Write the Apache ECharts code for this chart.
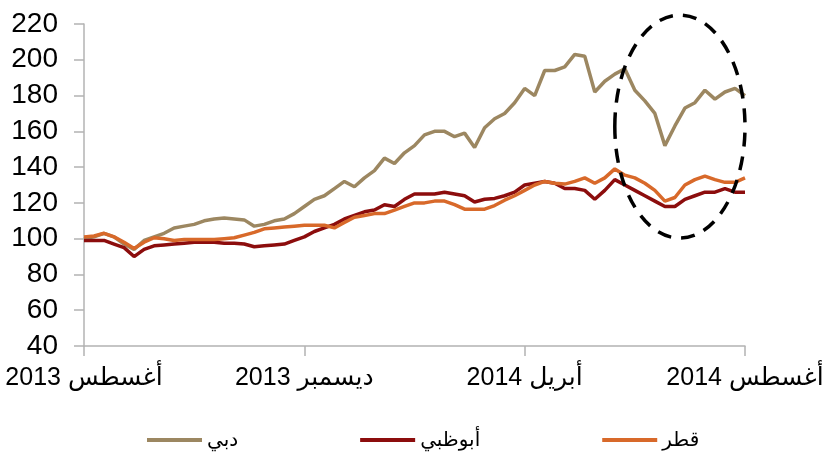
<!DOCTYPE html>
<html>
<head>
<meta charset="utf-8">
<script src="https://cdn.jsdelivr.net/npm/echarts@6/dist/echarts.min.js"></script>
<style>
  html, body { margin: 0; padding: 0; background: #fff; }
  #chart { width: 822px; height: 453px; }
</style>
</head>
<body>
<div id="chart"></div>
<script>
// roughly one point every 5-6 days, Aug 2013 -> Aug 2014
const categories = Array.from({ length: 67 }, (_, i) => String(i));
const tickLabels = ['أغسطس 2013', 'ديسمبر 2013', 'أبريل 2014', 'أغسطس 2014'];

const dubai = [
  100, 101, 103, 101, 97, 94, 99, 101, 103, 106,
  107, 108, 110, 111, 111.5, 111, 110.5, 107, 108, 110,
  111, 114, 118, 122, 124, 128, 132, 129, 134, 138,
  145, 142, 148, 152, 158, 160, 160, 157, 159, 151,
  162, 167, 170, 176, 184, 180, 194, 194, 196, 203,
  202, 182, 188, 192, 195, 183, 177, 170, 152, 163,
  173, 176, 183, 178, 182, 184, 180
];
const abuDhabi = [
  99, 99, 99, 97, 95, 90, 94, 96, 96.5, 97,
  97.5, 98, 98, 98, 97.5, 97.5, 97, 95.5, 96, 96.5,
  97, 99, 101, 104, 106, 108, 111, 113, 115, 116,
  119, 118, 122, 125, 125, 125, 126, 125, 124, 120.5,
  122, 122.5, 124, 126, 130, 131, 132, 131, 128, 128,
  127, 122, 127, 133, 130, 127, 124, 121, 118, 118,
  122, 124, 126, 126, 128, 126, 126
];
const qatar = [
  101, 101.5, 103, 101, 98, 94.5, 98, 100.5, 100, 99,
  99.5, 99.5, 99.5, 99.5, 100, 100.5, 102, 103.5, 105.5, 106,
  106.5, 107, 107.5, 107.5, 107.5, 106, 109, 112, 113, 114,
  114, 116, 118, 120, 120, 121, 121, 119, 116.5, 116.5,
  116.5, 118.5, 121.5, 124, 127, 130, 132, 131, 130.5, 132,
  134, 131, 134, 139, 135.5, 134, 131, 127, 121, 123,
  130, 133, 135, 133, 131.5, 131.5, 134
];

// dashed ellipse around the last months (in data units)
const ellipseX = [52.7, 65.7];
const ellipseY = [100.3, 225];

const fontFam = '"Liberation Sans", Arial, "DejaVu Sans", sans-serif';
const axisGray = '#b3b3b3';

const myChart = echarts.init(document.getElementById('chart'));

const option = {
  animation: false,
  backgroundColor: '#fff',
  grid: { left: 84, right: 77, top: 24, bottom: 107, outerBoundsMode: 'none', containLabel: false },
  legend: {
    left: 142,
    top: 425,
    itemGap: 122,
    itemWidth: 55,
    itemHeight: 4,
    icon: 'rect',
    textStyle: { fontSize: 20, color: '#000', fontFamily: fontFam },
    data: ['دبي', 'أبوظبي', 'قطر']
  },
  xAxis: {
    type: 'category',
    boundaryGap: false,
    data: categories,
    axisLine: { onZero: false, lineStyle: { color: axisGray, width: 1.5 } },
    axisTick: { interval: 21, length: 10, lineStyle: { color: axisGray, width: 1.5 } },
    axisLabel: {
      interval: 21,
      margin: 20,
      fontSize: 25,
      color: '#000',
      fontFamily: fontFam,
      formatter: (v, idx) => tickLabels[Math.round(idx / 22)]
    },
    splitLine: { show: false }
  },
  yAxis: {
    type: 'value',
    min: 40,
    max: 220,
    interval: 20,
    axisLine: { show: true, lineStyle: { color: axisGray, width: 1.5 } },
    axisTick: { show: true, length: 10, lineStyle: { color: axisGray, width: 1.5 } },
    axisLabel: { margin: 26, fontSize: 28, color: '#000', fontFamily: fontFam },
    splitLine: { show: false }
  },
  series: [
    {
      name: 'دبي', type: 'line', data: dubai, showSymbol: false,
      itemStyle: { color: '#9c8761' }, lineStyle: { width: 3.5, color: '#9c8761' }
    },
    {
      name: 'أبوظبي', type: 'line', data: abuDhabi, showSymbol: false,
      itemStyle: { color: '#8c0d0d' }, lineStyle: { width: 3.5, color: '#8c0d0d' }
    },
    {
      name: 'قطر', type: 'line', data: qatar, showSymbol: false,
      itemStyle: { color: '#d8692a' }, lineStyle: { width: 3.5, color: '#d8692a' }
    }
  ]
};

myChart.setOption(option);

// place the annotation ellipse through the axes
const p1 = myChart.convertToPixel({ gridIndex: 0 }, [ellipseX[0], ellipseY[1]]);
const p2 = myChart.convertToPixel({ gridIndex: 0 }, [ellipseX[1], ellipseY[0]]);
myChart.setOption({
  graphic: [{
    type: 'ellipse',
    z: 100,
    shape: {
      cx: (p1[0] + p2[0]) / 2,
      cy: (p1[1] + p2[1]) / 2,
      rx: Math.abs(p2[0] - p1[0]) / 2,
      ry: Math.abs(p2[1] - p1[1]) / 2
    },
    style: { fill: null, stroke: '#000', lineWidth: 3.5, lineDash: [14, 10] }
  }]
});
</script>
</body>
</html>
